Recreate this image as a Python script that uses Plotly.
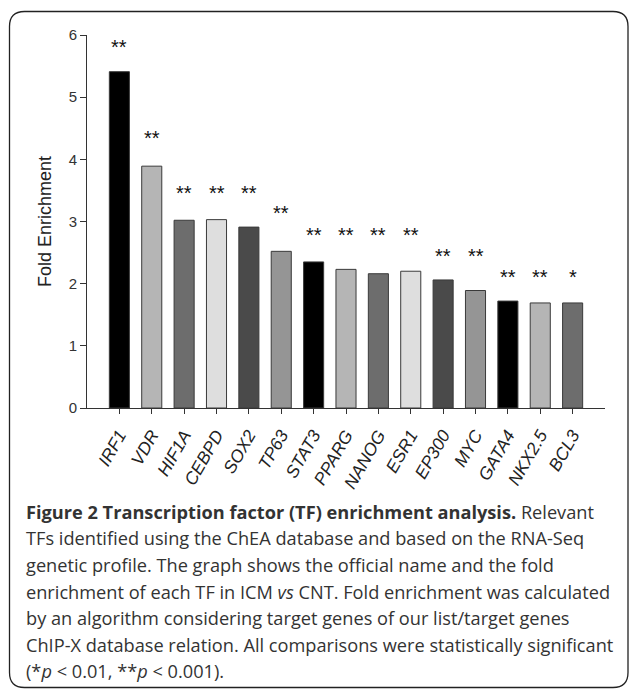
import plotly.graph_objects as go

# ---- data ----
factors = ["IRF1", "VDR", "HIF1A", "CEBPD", "SOX2", "TP63", "STAT3", "PPARG",
           "NANOG", "ESR1", "EP300", "MYC", "GATA4", "NKX2.5", "BCL3"]
fold_enrichment = [5.41, 3.89, 3.02, 3.03, 2.91, 2.52, 2.35, 2.23,
                   2.16, 2.20, 2.06, 1.89, 1.72, 1.69, 1.69]
significance = ["**", "**", "**", "**", "**", "**", "**", "**",
                "**", "**", "**", "**", "**", "**", "*"]
significance_height = [5.80, 4.34, 3.46, 3.46, 3.46, 3.13, 2.79, 2.79,
                       2.79, 2.79, 2.45, 2.45, 2.10, 2.10, 2.10]
bar_colors = ["#000000", "#b5b5b5", "#6d6d6d", "#dedede", "#4a4a4a", "#959595",
              "#000000", "#b5b5b5", "#6d6d6d", "#dedede", "#4a4a4a", "#959595",
              "#000000", "#b5b5b5", "#6d6d6d"]
y_ticks = [0, 1, 2, 3, 4, 5, 6]

caption_lines = [
    "<b>Figure 2 Transcription factor (TF) enrichment analysis.</b> Relevant",
    "TFs identified using the ChEA database and based on the RNA-Seq",
    "genetic profile. The graph shows the official name and the fold",
    "enrichment of each TF in ICM <i>vs</i> CNT. Fold enrichment was calculated",
    "by an algorithm considering target genes of our list/target genes",
    "ChIP-X database relation. All comparisons were statistically significant",
    "(*<i>p</i> &lt; 0.01, **<i>p</i> &lt; 0.001).",
]

# ---- layout geometry (pixels) ----
W, H = 629, 690
ML, MR, MT, MB = 87, 24, 35, 282
PW, PH = W - ML - MR, H - MT - MB


def px_x(p):
    return (p - ML) / PW


def px_y(p):
    return (H - MB - p) / PH


fig = go.Figure()
fig.add_trace(go.Bar(
    x=factors, y=fold_enrichment,
    marker=dict(color=bar_colors, line=dict(color="#3a3a3a", width=1)),
    width=0.62, showlegend=False, hoverinfo="x+y",
))

annotations = []
for f, s, h in zip(factors, significance, significance_height):
    annotations.append(dict(
        x=f, y=h, xref="x", yref="y", text=s, showarrow=False,
        font=dict(family="Arial, Liberation Sans", size=20, color="#111"),
        xanchor="center", yanchor="middle",
    ))

caption_y = [511.7, 538.3, 565.0, 591.7, 618.3, 645.0, 670.5]
for line, cy in zip(caption_lines, caption_y):
    annotations.append(dict(
        x=px_x(24), y=px_y(cy), xref="paper", yref="paper", text=line,
        showarrow=False, xanchor="left", yanchor="middle", align="left",
        font=dict(family="Open Sans", size=18.2, color="#333333"),
    ))

# rounded frame
x0, x1, y0, y1, r = 9.5, 628, 11.5, 687.5, 15
rx, ry = r / PW, r / PH
X0, X1, Y0, Y1 = px_x(x0), px_x(x1), px_y(y0), px_y(y1)
path = (f"M {X0+rx},{Y0} L {X1-rx},{Y0} Q {X1},{Y0} {X1},{Y0-ry} "
        f"L {X1},{Y1+ry} Q {X1},{Y1} {X1-rx},{Y1} "
        f"L {X0+rx},{Y1} Q {X0},{Y1} {X0},{Y1+ry} "
        f"L {X0},{Y0-ry} Q {X0},{Y0} {X0+rx},{Y0} Z")

fig.update_layout(
    width=W, height=H,
    margin=dict(l=ML, r=MR, t=MT, b=MB, pad=0),
    paper_bgcolor="white", plot_bgcolor="white",
    annotations=annotations,
    shapes=[dict(type="path", path=path, xref="paper", yref="paper",
                 line=dict(color="#222", width=1.3), layer="above")],
    xaxis=dict(
        range=[-1, 15], showgrid=False, zeroline=False,
        showline=True, linecolor="#333", linewidth=1,
        ticks="outside", ticklen=5, tickcolor="#333", tickwidth=1,
        tickangle=-60, ticklabelstandoff=4,
        tickfont=dict(family="Arial, Liberation Sans", size=17.5, color="#222", style="italic"),
    ),
    yaxis=dict(
        range=[0, 6], tickvals=y_ticks, showgrid=False, zeroline=False,
        showline=True, linecolor="#333", linewidth=1,
        ticks="outside", ticklen=6, tickcolor="#333", tickwidth=1,
        tickfont=dict(family="Arial, Liberation Sans", size=15, color="#333"),
        title=dict(text="Fold Enrichment", standoff=12,
                   font=dict(family="Arial, Liberation Sans", size=18, color="#222")),
    ),
)

fig.write_html("out.html", config={"displayModeBar": False},
               post_script="document.body.style.margin='0';document.body.style.overflow='hidden';")
